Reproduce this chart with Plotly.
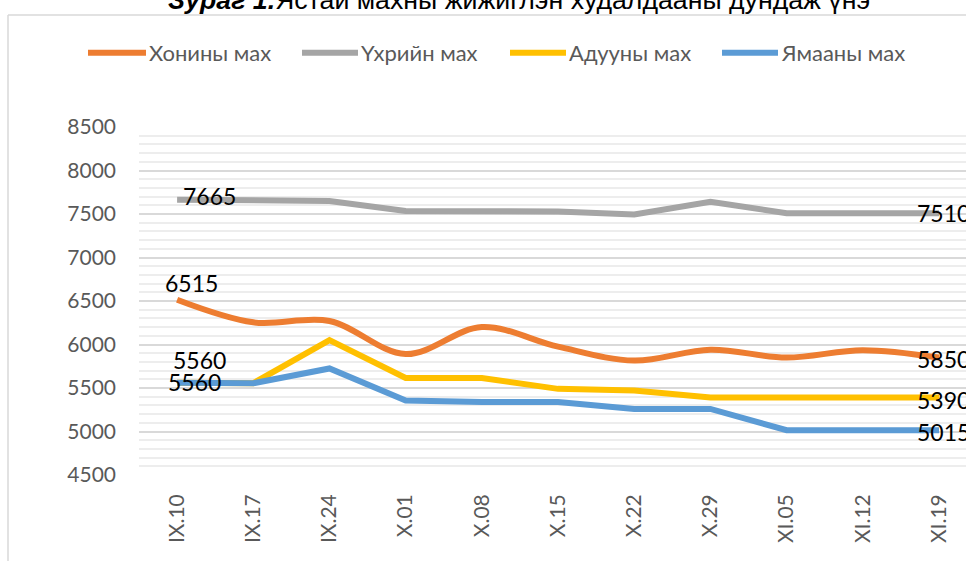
import plotly.graph_objects as go

# ---- data ----
categories = ["IX.10", "IX.17", "IX.24", "X.01", "X.08", "X.15", "X.22", "X.29", "XI.05", "XI.12", "XI.19"]
series_names = ["Хонины мах", "Үхрийн мах", "Адууны мах", "Ямааны мах"]
khonin = [6515, 6255, 6270, 5890, 6200, 5975, 5815, 5940, 5850, 5935, 5850]
ukhriin = [7665, 7660, 7650, 7535, 7535, 7530, 7495, 7640, 7510, 7515, 7510]
aduuny = [5560, 5555, 6050, 5615, 5615, 5490, 5470, 5390, 5390, 5390, 5390]
yamaany = [5560, 5555, 5725, 5355, 5340, 5340, 5260, 5260, 5015, 5015, 5015]
y_ticks = [4500, 5000, 5500, 6000, 6500, 7000, 7500, 8000, 8500]
title_bold = "Зураг 1."
title_rest = "Ястай махны жижиглэн худалдааны дундаж үнэ"

colors = ["#ED7D31", "#A5A5A5", "#FFC000", "#5B9BD5"]
values = [khonin, ukhriin, aduuny, yamaany]
shapes_line = ["spline", "linear", "linear", "linear"]

W, H = 966, 561
L, R, T, B = 139, 0, 127, 86
PW, PH = W - L - R, H - T - B

def px2x(px):
    return (px - L) / PW

def px2y(py):
    return (H - B - py) / PH

FONT = "Lato"
fig = go.Figure()

# draw order: grey, orange, yellow, blue (blue over yellow)
order = [1, 0, 2, 3]
for i in order:
    fig.add_trace(go.Scatter(
        x=categories, y=values[i], name=series_names[i], mode="lines",
        line=dict(color=colors[i], width=6, shape=shapes_line[i], smoothing=1),
        showlegend=False, hoverinfo="skip"))

# data labels (first and last points)
label_shift = {
    0: [(14, 17), (4, -1)],
    1: [(32, 4), (4, 0)],
    2: [(22, 23), (4, -2)],
    3: [(17, 1), (4, -2)],
}
annotations = []
for i in range(4):
    for k, idx in enumerate([0, len(categories) - 1]):
        dx, dy = label_shift[i][k]
        annotations.append(dict(
            x=idx, y=values[i][idx], xref="x", yref="y", text=str(values[i][idx]),
            showarrow=False, xshift=dx, yshift=dy,
            font=dict(family=FONT, size=23, color="#000000")))

# manual legend
legend_x = [(88, 146), (302, 358), (510, 566), (722, 778)]
shapes = []
for i in range(4):
    x0, x1 = legend_x[i]
    shapes.append(dict(type="line", xref="paper", yref="paper",
                       x0=px2x(x0), x1=px2x(x1), y0=px2y(52.7), y1=px2y(52.7),
                       line=dict(color=colors[i], width=6)))
    annotations.append(dict(x=px2x(x1 + 1), y=px2y(52.7), xref="paper", yref="paper",
                            xanchor="left", yanchor="middle", showarrow=False,
                            text=series_names[i],
                            font=dict(family=FONT, size=22, color="#595959")))

# chart-area border (left and top)
shapes.append(dict(type="line", xref="paper", yref="paper",
                   x0=px2x(8), x1=px2x(8), y0=px2y(15), y1=px2y(570),
                   line=dict(color="#D9D9D9", width=1.5)))
shapes.append(dict(type="line", xref="paper", yref="paper",
                   x0=px2x(8), x1=px2x(980), y0=px2y(15), y1=px2y(15),
                   line=dict(color="#D9D9D9", width=1.5)))

# title (cut off at top)
annotations.append(dict(x=px2x(519), y=px2y(17), xref="paper", yref="paper",
                        xanchor="center", yanchor="bottom", showarrow=False,
                        text=f"<b><i>{title_bold}</i></b>{title_rest}",
                        font=dict(family="Liberation Sans", size=26.7, color="#000000")))

fig.update_layout(
    width=W, height=H,
    margin=dict(l=L, r=R, t=T, b=B, pad=0),
    paper_bgcolor="white", plot_bgcolor="white",
    showlegend=False,
    shapes=shapes, annotations=annotations,
    xaxis=dict(type="category", range=[-0.5, (W - 177) / 76.2], showgrid=False,
               zeroline=False, showline=False, ticks="", tickangle=-90,
               tickfont=dict(family=FONT, size=21, color="#595959"),
               ticklabelstandoff=14),
    yaxis=dict(range=[4500, 8500], tickvals=y_ticks, showgrid=True,
               gridcolor="#D9D9D9", gridwidth=1.5, zeroline=False, showline=False,
               ticks="", tickfont=dict(family=FONT, size=21, color="#595959"),
               ticklabelstandoff=22,
               minor=dict(dtick=100, showgrid=True, gridcolor="#EDEDED", gridwidth=1.5)),
)

fig.write_html("out.html", config={"displayModeBar": False},
               post_script="document.body.style.margin='0';document.body.style.overflow='hidden';")
